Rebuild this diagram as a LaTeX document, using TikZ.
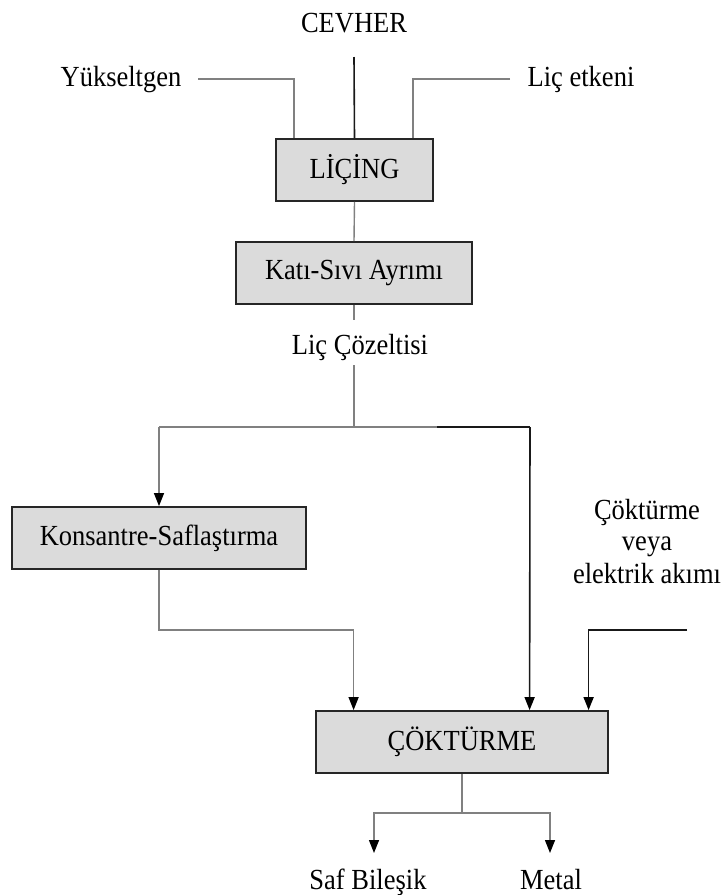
\documentclass[tikz,border=0pt]{standalone}
\usepackage{fontspec}
\setmainfont{Liberation Serif}
\usetikzlibrary{arrows.meta}
\newcommand{\tl}[1]{\scalebox{1}[1.1]{#1}}
\begin{document}
\begin{tikzpicture}[x=1pt,y=-1pt,
  every node/.style={font=\fontsize{26.5}{30}\selectfont, inner sep=0pt},
  box/.style={draw=black!85, line width=1.8pt, fill=black!14, minimum height=62pt},
  lbl/.style={anchor=base},
  gry/.style={draw=black!50, line width=1.4pt},
  blk/.style={draw=black!90, line width=1.6pt},
  tip/.style={-{Triangle[width=10pt,length=13pt,black]}}
]
\useasboundingbox (0,0) rectangle (721,895);

% boxes
\node[box, minimum width=157pt] (lic) at (354.5,170) {\tl{LİÇİNG}};
\node[box, minimum width=236pt] (kati) at (354,273) {\tl{Katı-Sıvı Ayrımı}};
\node[box, minimum width=294pt] (kons) at (159,538) {\tl{Konsantre-Saflaştırma}};
\node[box, minimum width=292pt] (cok) at (462,742) {\tl{ÇÖKTÜRME}};

% labels
\node[lbl] (cev) at (354,32) {\tl{CEVHER}};
\node[lbl] (yuk) at (121,86) {\tl{Yükseltgen}};
\node[lbl] (let) at (581,86) {\tl{Liç etkeni}};
\node[lbl] (lcz) at (360,354) {\tl{Liç Çözeltisi}};
\node[lbl] (ck1) at (647,519) {\tl{Çöktürme}};
\node[lbl] (ck2) at (647,550) {\tl{veya}};
\node[lbl] (ck3) at (647,583) {\tl{elektrik akımı}};
\node[lbl] (saf) at (368,889) {\tl{Saf Bileşik}};
\node[lbl] (met) at (551,889) {\tl{Metal}};

% coordinates
\coordinate (cvtop) at (354,57);
\coordinate (yukend) at (198,79);
\coordinate (letend) at (510,79);
\coordinate (katiout) at (354,320);
\coordinate (lczin) at (354,365);
\coordinate (split) at (354,427);
\coordinate (splitL) at (159,427);
\coordinate (splitM) at (437,427);
\coordinate (splitR) at (530,427);
\coordinate (konsmid) at (159,630);
\coordinate (elin) at (687,630);
\coordinate (bsplit) at (462,813);
\coordinate (safin) at (374,853);
\coordinate (metin) at (550,853);

% top connectors
\draw[blk] (cvtop) -- (lic.north);
\draw[gry] (yukend) -| ([xshift=19pt]lic.north west);
\draw[gry] (letend) -| ([xshift=-21pt]lic.north east);
\draw[gry] (lic.south) -- (kati.north);
\draw[gry] (kati.south) -- (katiout);
\draw[gry] (lczin) -- (split);

% split
\draw[gry] (splitL) -- (splitM);
\draw[blk] (splitM) -- (splitR);
\draw[gry, tip] (splitL) -- (kons.north);
\draw[blk, tip] (splitR) -- ([xshift=214.5pt]cok.north west);

% konsantre to cokturme
\draw[gry, tip] (kons.south) -- (konsmid) -| ([xshift=38.5pt]cok.north west);
\draw[blk, tip] (elin) -| ([xshift=273.5pt]cok.north west);

% outputs
\draw[gry] (cok.south) -- (bsplit);
\draw[gry, tip] (bsplit) -| (safin);
\draw[gry, tip] (bsplit) -| (metin);
\end{tikzpicture}
\end{document}
